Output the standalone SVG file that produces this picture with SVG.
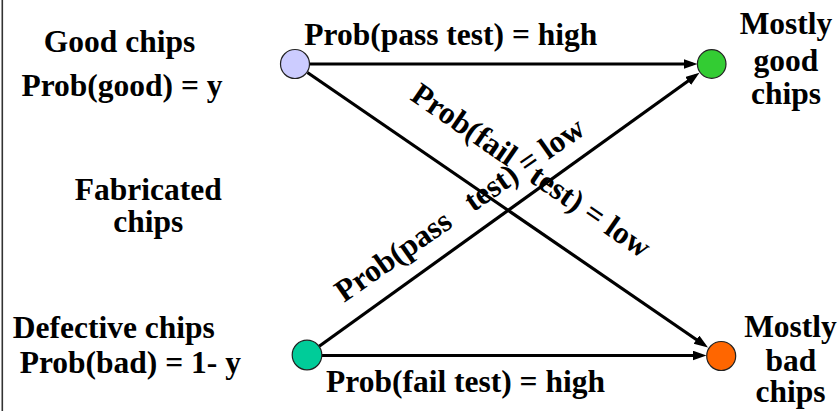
<svg xmlns="http://www.w3.org/2000/svg" width="839" height="411" viewBox="0 0 839 411">
<style>
text{font-family:'Liberation Serif','Times New Roman',serif;font-weight:700;font-size:31.5px;fill:#000}
.m{text-anchor:middle}
.node{stroke:#222;stroke-width:1.2}
.edge{stroke:#000;stroke-width:3.2;fill:none;marker-end:url(#ah)}
</style>
<defs>
<marker id="ah" markerUnits="userSpaceOnUse" markerWidth="15" markerHeight="11" refX="9" refY="5" orient="auto">
<path d="M0,0 L14,5 L0,10 z" fill="#000"/>
</marker>
</defs>
<rect width="839" height="411" fill="#fff"/>
<line x1="2.3" y1="0" x2="2.3" y2="411" stroke="#333" stroke-width="1.6"/>
<g font-family="Liberation Serif, serif" font-weight="bold">
<g id="connectors">
<line class="edge" x1="310" y1="64" x2="692.5" y2="64"/>
<line class="edge" x1="307.4" y1="72.5" x2="703.9" y2="344.7"/>
<line class="edge" x1="319.2" y1="346.2" x2="695.4" y2="75.7"/>
<line class="edge" x1="322" y1="355.5" x2="701.5" y2="355.5"/>
<text x="450.8" y="45" class="m">Prob(pass test) = high</text>
<text x="465.5" y="392" class="m">Prob(fail test) = high</text>
<text x="409" y="99" transform="rotate(34.5 409 99)" xml:space="preserve">Prob(fail   test) = low</text>
<text x="344" y="303" transform="rotate(-35 344 303)" xml:space="preserve">Prob(pass   test) = low</text>
</g>
<g id="good">
<circle class="node" cx="295" cy="64" r="14.5" fill="#CCCCFF"/>
<text x="119.5" y="51.5" class="m">Good chips</text>
<text x="122" y="95.5" class="m">Prob(good) = y</text>
</g>
<g id="fabricated">
<text x="148.3" y="200" class="m">Fabricated</text>
<text x="148.3" y="231.7" class="m">chips</text>
</g>
<g id="defective">
<circle class="node" cx="307" cy="355" r="14.8" fill="#00CC99"/>
<text x="113.8" y="338" class="m">Defective chips</text>
<text x="130.3" y="373" class="m">Prob(bad) = 1- y</text>
</g>
<g id="mostly-good">
<circle class="node" cx="711.7" cy="64" r="14.3" fill="#33CC33"/>
<text x="786" y="34" class="m">Mostly</text>
<text x="786" y="71" class="m">good</text>
<text x="786" y="104" class="m">chips</text>
</g>
<g id="mostly-bad">
<circle class="node" cx="721.2" cy="356" r="14.5" fill="#FF6600"/>
<text x="790.5" y="337" class="m">Mostly</text>
<text x="791" y="370.5" class="m">bad</text>
<text x="790.5" y="402" class="m">chips</text>
</g>
</g>
</svg>
